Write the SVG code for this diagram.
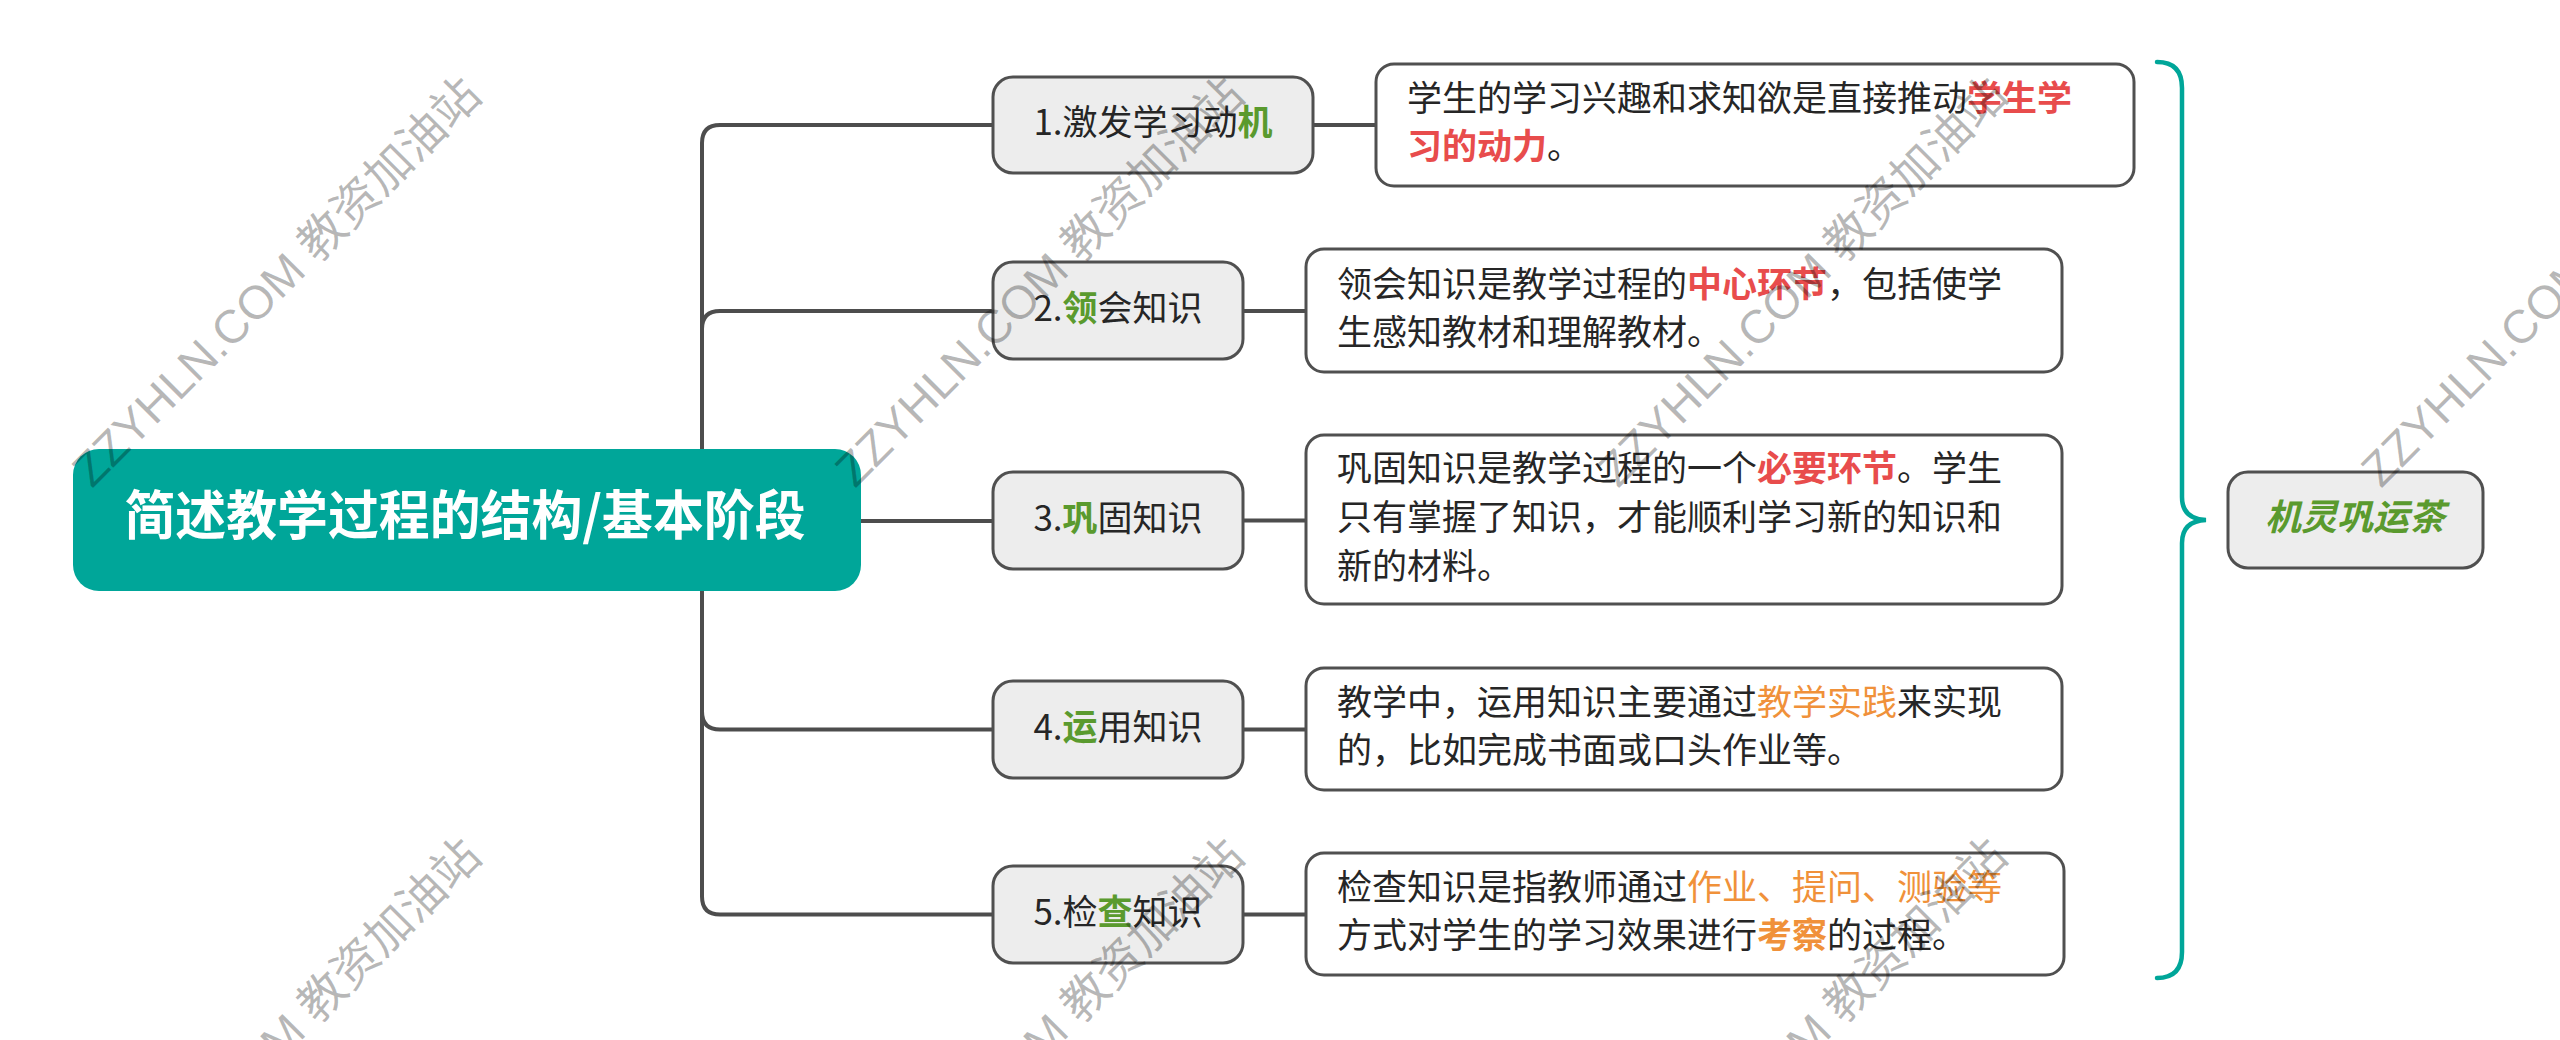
<svg xmlns="http://www.w3.org/2000/svg" width="2560" height="1040" viewBox="0 0 2560 1040">
<style>
.conn{fill:none;stroke:#4d4d4d;stroke-width:4;stroke-linecap:butt}
.brace{fill:none;stroke:#00a699;stroke-width:4.5;stroke-linecap:round}
.mid{fill:#ededed;stroke:#505050;stroke-width:3}
.desc{fill:#ffffff;stroke:#505050;stroke-width:3}
.t{font-family:"Noto Sans CJK SC","Noto Sans",sans-serif;font-size:35px;fill:#262626}
.mt{text-anchor:middle}
.g{fill:#5a9a2e;font-weight:bold}
.sum{font-family:"Noto Sans CJK SC","Noto Sans",sans-serif;font-size:36px;fill:#5a9a2e;font-weight:bold;font-style:italic;text-anchor:middle}
.r{fill:#e84c4c;font-weight:bold}
.o{fill:#f0913a}
.ob{fill:#f0913a;font-weight:bold}
.wm{font-family:"Liberation Sans","Noto Sans CJK SC",sans-serif;font-size:47px;fill:#000;fill-opacity:0.28}
</style>
<rect width="2560" height="1040" fill="#ffffff"/>
<g id="connectors">
<path class="conn" d="M702,520 V143 Q702,125 720,125 H993"/>
<path class="conn" d="M702,520 V329 Q702,311 720,311 H993"/>
<path class="conn" d="M861,521 H993"/>
<path class="conn" d="M702,520 V711.5 Q702,729.5 720,729.5 H993"/>
<path class="conn" d="M702,520 V896.5 Q702,914.5 720,914.5 H993"/>
<path class="conn" d="M1313,125 H1376"/>
<path class="conn" d="M1243,311 H1306"/>
<path class="conn" d="M1243,520.5 H1306"/>
<path class="conn" d="M1243,729.5 H1306"/>
<path class="conn" d="M1243,914.5 H1306"/>
<path class="brace" d="M2157,62 Q2182,62 2182,88 V497 Q2182,519 2206,520 Q2182,521 2182,543 V952 Q2182,978 2157,978"/>
</g>
<g id="root">
<rect x="73" y="449" width="788" height="142" rx="26" fill="#00a699"/>
<text x="465" y="535" text-anchor="middle" font-family="Noto Sans CJK SC, Noto Sans, sans-serif" font-size="53" font-weight="bold" fill="#ffffff" textLength="681" lengthAdjust="spacingAndGlyphs">简述教学过程的结构/基本阶段</text>
</g>
<g id="n1">
<rect class="mid" x="993" y="77" width="320" height="96" rx="20"/>
<text class="t mt" x="1153" y="135">1.激发学习动<tspan class="g">机</tspan></text>
</g>
<g id="n2">
<rect class="mid" x="993" y="262" width="250" height="97" rx="20"/>
<text class="t mt" x="1118" y="320.5">2.<tspan class="g">领</tspan>会知识</text>
</g>
<g id="n3">
<rect class="mid" x="993" y="472" width="250" height="97" rx="20"/>
<text class="t mt" x="1118" y="530.5">3.<tspan class="g">巩</tspan>固知识</text>
</g>
<g id="n4">
<rect class="mid" x="993" y="681" width="250" height="97" rx="20"/>
<text class="t mt" x="1118" y="739.5">4.<tspan class="g">运</tspan>用知识</text>
</g>
<g id="n5">
<rect class="mid" x="993" y="866" width="250" height="97" rx="20"/>
<text class="t mt" x="1118" y="924.5">5.检<tspan class="g">查</tspan>知识</text>
</g>
<g id="d1">
<rect class="desc" x="1376" y="64" width="758" height="122" rx="18"/>
<text class="t" x="1407" y="111">学生的学习兴趣和求知欲是直接推动<tspan class="r">学生学</tspan></text>
<text class="t" x="1407" y="159"><tspan class="r">习的动力</tspan>。</text>
</g>
<g id="d2">
<rect class="desc" x="1306" y="249" width="756" height="123" rx="18"/>
<text class="t" x="1337" y="296.5">领会知识是教学过程的<tspan class="r">中心环节</tspan>，包括使学</text>
<text class="t" x="1337" y="344.5">生感知教材和理解教材。</text>
</g>
<g id="d3">
<rect class="desc" x="1306" y="435" width="756" height="169" rx="18"/>
<text class="t" x="1337" y="480.5">巩固知识是教学过程的一个<tspan class="r">必要环节</tspan>。学生</text>
<text class="t" x="1337" y="529.5">只有掌握了知识，才能顺利学习新的知识和</text>
<text class="t" x="1337" y="578.5">新的材料。</text>
</g>
<g id="d4">
<rect class="desc" x="1306" y="668" width="756" height="122" rx="18"/>
<text class="t" x="1337" y="714.5">教学中，运用知识主要通过<tspan class="o">教学实践</tspan>来实现</text>
<text class="t" x="1337" y="762.5">的，比如完成书面或口头作业等。</text>
</g>
<g id="d5">
<rect class="desc" x="1306" y="853" width="758" height="122" rx="18"/>
<text class="t" x="1337" y="900">检查知识是指教师通过<tspan class="o">作业、提问、测验等</tspan></text>
<text class="t" x="1337" y="948">方式对学生的学习效果进行<tspan class="ob">考察</tspan>的过程。</text>
</g>
<g id="summary">
<rect class="mid" x="2228" y="472" width="255" height="96" rx="20"/>
<text class="sum" x="2355" y="530">机灵巩运茶</text>
</g>
<g id="watermarks">
<text class="wm" x="92" y="489" transform="rotate(-45 92 489)">ZZYHLN.COM 教资加油站</text>
<text class="wm" x="855" y="489" transform="rotate(-45 855 489)">ZZYHLN.COM 教资加油站</text>
<text class="wm" x="1618" y="489" transform="rotate(-45 1618 489)">ZZYHLN.COM 教资加油站</text>
<text class="wm" x="2381" y="489" transform="rotate(-45 2381 489)">ZZYHLN.COM 教资加油站</text>
<text class="wm" x="92" y="1250" transform="rotate(-45 92 1250)">ZZYHLN.COM 教资加油站</text>
<text class="wm" x="855" y="1250" transform="rotate(-45 855 1250)">ZZYHLN.COM 教资加油站</text>
<text class="wm" x="1618" y="1250" transform="rotate(-45 1618 1250)">ZZYHLN.COM 教资加油站</text>
</g>
</svg>
